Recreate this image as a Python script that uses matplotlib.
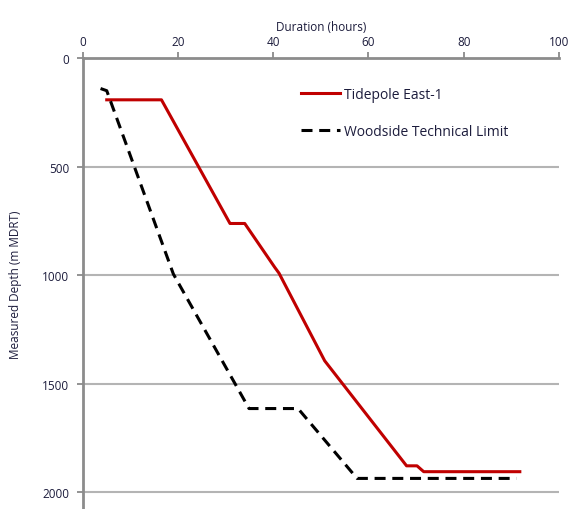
import matplotlib
matplotlib.use("Agg")
import matplotlib.pyplot as plt

# Tidepole East-1 actual (hours, metres)
tide_hours = [5.0, 16.5, 30.9, 34.0, 40.3, 41.2, 50.8, 68.0, 70.2, 71.6, 91.8]
tide_depth = [192, 192, 762, 762, 964, 991, 1395, 1879, 1879, 1906, 1906]

# Woodside technical limit
limit_hours = [3.7, 5.0, 19.0, 34.9, 45.2, 57.6, 91.1]
limit_depth = [140, 150, 995, 1615, 1615, 1937, 1937]

x_ticks = [0, 20, 40, 60, 80, 100]
y_ticks = [0, 500, 1000, 1500, 2000]

label_color = "#1c1c3c"
plt.rcParams["font.family"] = ["Open Sans", "DejaVu Sans"]

fig = plt.figure(figsize=(5.72, 5.10), dpi=100)
ax = fig.add_axes([0.145, 0.0, 0.832, 0.884])

for d in y_ticks[1:]:
    ax.axhline(d, color="#b4b4b4", lw=1.5, zorder=1)

ax.plot(tide_hours, tide_depth, color="#c00000", lw=2.2, label="Tidepole East-1", zorder=3)
ax.plot(limit_hours, limit_depth, color="black", lw=2.2, ls=(0, (3.6, 2.2)),
        label="Woodside Technical Limit", zorder=3)

ax.set_xlim(0, 100)
ax.set_ylim(2078, 0)
ax.xaxis.tick_top()
ax.xaxis.set_label_position("top")
ax.set_xticks(x_ticks)
ax.set_yticks(y_ticks)
ax.tick_params(axis="both", labelsize=8.5, colors="#808080", labelcolor=label_color,
               length=4, width=1.2, direction="out", pad=3)
ax.tick_params(axis="y", pad=6)

for side in ["right", "bottom"]:
    ax.spines[side].set_visible(False)
for side in ["left", "top"]:
    ax.spines[side].set_color("#8c8c8c")
    ax.spines[side].set_linewidth(2)

ax.set_xlabel("Duration (hours)", fontsize=8.5, color=label_color, labelpad=4)
ax.set_ylabel("Measured Depth (m MDRT)", fontsize=8.5, color=label_color, labelpad=14)

ax.legend(loc="upper left", bbox_to_anchor=(0.505, 0.852), bbox_transform=fig.transFigure,
          frameon=False, fontsize=10, handlelength=2.8, handletextpad=0.3,
          labelspacing=1.6, labelcolor=label_color)

fig.savefig("out.png", dpi=100)
